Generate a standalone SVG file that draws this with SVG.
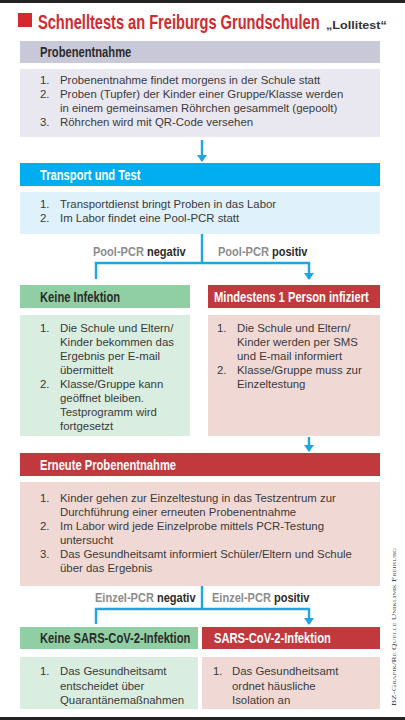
<svg xmlns="http://www.w3.org/2000/svg" width="405" height="720" viewBox="0 0 405 720">
<defs>
<marker id="ah" markerUnits="userSpaceOnUse" markerWidth="7" markerHeight="10" refX="6" refY="5" orient="auto" viewBox="0 0 7 10">
<path d="M0,0 L7,5 L0,10 Z" fill="#1ea5e2"/>
</marker>
<style>
.t{font-family:"Liberation Sans",Arial,sans-serif;font-size:11.4px;fill:#3a3a3a}
.h{font-family:"Liberation Sans",Arial,sans-serif;font-size:14px;font-weight:bold}
.hw{fill:#ffffff}
.hd{fill:#2b2b2b}
.lg{font-family:"Liberation Sans",Arial,sans-serif;font-size:13px;font-weight:bold;fill:#8c8c8c}
.lb{fill:#2b2b2b}
.c{fill:none;stroke:#1ea5e2;stroke-width:2.4}
.ca{fill:none;stroke:#1ea5e2;stroke-width:2.4;marker-end:url(#ah)}
</style>
</defs>
<rect x="0" y="0" width="405" height="720" fill="#ffffff"/>
<rect x="0" y="0" width="405" height="3" fill="#232323"/>
<rect x="0" y="717" width="405" height="3" fill="#232323"/>

<g id="title">
<rect x="18" y="13" width="14" height="14" fill="#d22a2e"/>
<text transform="translate(38,29) scale(0.731,1)" font-family="'Liberation Sans',Arial,sans-serif" font-size="20" font-weight="bold" fill="#d22a2e">Schnelltests an Freiburgs Grundschulen</text>
<text transform="translate(326,29) scale(1.2,1)" font-family="'Liberation Sans',Arial,sans-serif" font-size="10.5" font-weight="bold" fill="#333">„Lollitest“</text>
</g>

<g id="connectors">
<line class="ca" x1="202" y1="140" x2="202" y2="161"/>
<polyline class="c" points="202,234 202,263"/>
<polyline class="ca" points="96,279 96,263 309,263 309,279"/>
<line class="ca" x1="309" y1="437" x2="309" y2="451"/>
<polyline class="c" points="202,586 202,609"/>
<polyline class="ca" points="96,624 96,609 309,609 309,624"/>
</g>

<g id="label-pool-neg"><text class="lg" transform="translate(93,256) scale(0.85,1)">Pool-PCR <tspan class="lb">negativ</tspan></text></g>
<g id="label-pool-pos"><text class="lg" transform="translate(218,256) scale(0.85,1)">Pool-PCR <tspan class="lb">positiv</tspan></text></g>
<g id="label-einzel-neg"><text class="lg" transform="translate(95,602) scale(0.85,1)">Einzel-PCR <tspan class="lb">negativ</tspan></text></g>
<g id="label-einzel-pos"><text class="lg" transform="translate(212,602) scale(0.85,1)">Einzel-PCR <tspan class="lb">positiv</tspan></text></g>

<g id="probenentnahme">
<rect x="20" y="41" width="360" height="22" fill="#c9c8d9"/>
<text class="h hd" transform="translate(40,57) scale(0.8,1)">Probenentnahme</text>
<rect x="20" y="69" width="360" height="68" fill="#e9e8f0"/>
<text class="t" x="40" y="84">1.</text><text class="t" x="60" y="84">Probenentnahme findet morgens in der Schule statt</text>
<text class="t" x="40" y="98">2.</text><text class="t" x="60" y="98">Proben (Tupfer) der Kinder einer Gruppe/Klasse werden</text>
<text class="t" x="60" y="112">in einem gemeinsamen Röhrchen gesammelt (gepoolt)</text>
<text class="t" x="40" y="126">3.</text><text class="t" x="60" y="126">Röhrchen wird mit QR-Code versehen</text>
</g>

<g id="transport">
<rect x="20" y="163" width="360" height="23" fill="#00aeef"/>
<text class="h hw" transform="translate(40,180) scale(0.8,1)">Transport und Test</text>
<rect x="20" y="192" width="360" height="42" fill="#dff1fa"/>
<text class="t" x="40" y="208">1.</text><text class="t" x="60" y="208">Transportdienst bringt Proben in das Labor</text>
<text class="t" x="40" y="222">2.</text><text class="t" x="60" y="222">Im Labor findet eine Pool-PCR statt</text>
</g>

<g id="keine-infektion">
<rect x="20" y="285" width="170" height="23" fill="#8fcfa3"/>
<text class="h hd" transform="translate(40,302) scale(0.8,1)">Keine Infektion</text>
<rect x="20" y="315" width="170" height="121" fill="#d9ede0"/>
<text class="t" x="40" y="332">1.</text><text class="t" x="60" y="332">Die Schule und Eltern/</text>
<text class="t" x="60" y="346">Kinder bekommen das</text>
<text class="t" x="60" y="360">Ergebnis per E-mail</text>
<text class="t" x="60" y="374">übermittelt</text>
<text class="t" x="40" y="388">2.</text><text class="t" x="60" y="388">Klasse/Gruppe kann</text>
<text class="t" x="60" y="402">geöffnet bleiben.</text>
<text class="t" x="60" y="416">Testprogramm wird</text>
<text class="t" x="60" y="430">fortgesetzt</text>
</g>

<g id="mindestens">
<rect x="208" y="285" width="172" height="23" fill="#c1393c"/>
<text class="h hw" transform="translate(214,302) scale(0.8,1)">Mindestens 1 Person infiziert</text>
<rect x="208" y="315" width="172" height="121" fill="#f0d9d5"/>
<text class="t" x="217" y="332">1.</text><text class="t" x="237" y="332">Die Schule und Eltern/</text>
<text class="t" x="237" y="346">Kinder werden per SMS</text>
<text class="t" x="237" y="360">und E-mail informiert</text>
<text class="t" x="217" y="374">2.</text><text class="t" x="237" y="374">Klasse/Gruppe muss zur</text>
<text class="t" x="237" y="388">Einzeltestung</text>
</g>

<g id="erneute">
<rect x="20" y="453" width="360" height="23" fill="#c1393c"/>
<text class="h hw" transform="translate(40,470) scale(0.8,1)">Erneute Probenentnahme</text>
<rect x="20" y="482" width="360" height="104" fill="#f0d9d5"/>
<text class="t" x="40" y="502">1.</text><text class="t" x="60" y="502">Kinder gehen zur Einzeltestung in das Testzentrum zur</text>
<text class="t" x="60" y="516">Durchführung einer erneuten Probenentnahme</text>
<text class="t" x="40" y="530">2.</text><text class="t" x="60" y="530">Im Labor wird jede Einzelprobe mittels PCR-Testung</text>
<text class="t" x="60" y="544">untersucht</text>
<text class="t" x="40" y="558">3.</text><text class="t" x="60" y="558">Das Gesundheitsamt informiert Schüler/Eltern und Schule</text>
<text class="t" x="60" y="572">über das Ergebnis</text>
</g>

<g id="keine-sars">
<rect x="20" y="627" width="178" height="22" fill="#8fcfa3"/>
<text class="h hd" transform="translate(40,643) scale(0.8,1)">Keine SARS-CoV-2-Infektion</text>
<rect x="20" y="657" width="178" height="52" fill="#d9ede0"/>
<text class="t" x="40" y="675">1.</text><text class="t" x="60" y="675">Das Gesundheitsamt</text>
<text class="t" x="60" y="690">entscheidet über</text>
<text class="t" x="60" y="704">Quarantänemaßnahmen</text>
</g>

<g id="sars">
<rect x="202" y="627" width="178" height="22" fill="#c1393c"/>
<text class="h hw" transform="translate(214,643) scale(0.8,1)">SARS-CoV-2-Infektion</text>
<rect x="202" y="657" width="178" height="52" fill="#f0d9d5"/>
<text class="t" x="213" y="675">1.</text><text class="t" x="232" y="675">Das Gesundheitsamt</text>
<text class="t" x="232" y="690">ordnet häusliche</text>
<text class="t" x="232" y="704">Isolation an</text>
</g>

<g id="credit">
<text transform="translate(396,706) rotate(-90)" font-family="'Liberation Serif',serif" font-size="7" font-variant="small-caps" fill="#444" textLength="158" lengthAdjust="spacingAndGlyphs">BZ-Grafik/Re  Quelle Uniklinik Freiburg</text>
</g>
</svg>
